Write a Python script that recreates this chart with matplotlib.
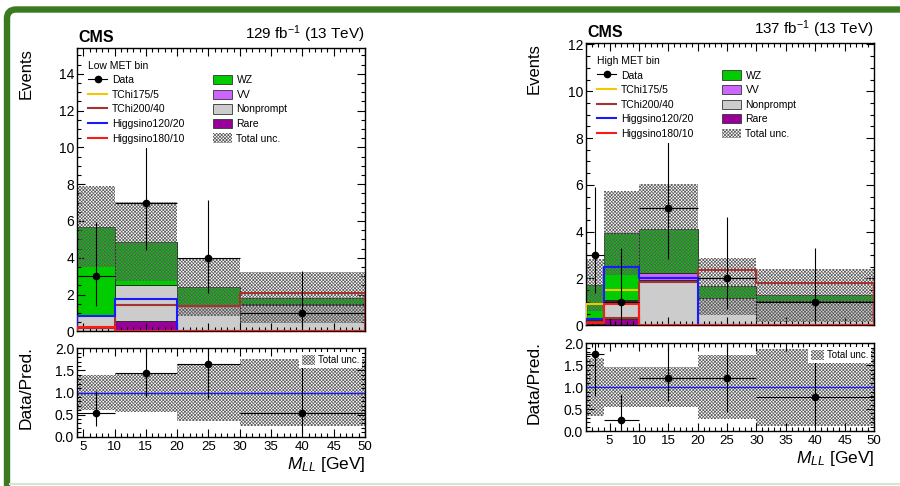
import numpy as np
import matplotlib
matplotlib.use("Agg")
import matplotlib.pyplot as plt
from matplotlib.patches import Patch, FancyBboxPatch
from matplotlib.lines import Line2D
from matplotlib.ticker import MultipleLocator, FormatStrFormatter
from matplotlib.transforms import IdentityTransform

plt.rcParams["font.family"] = ["Liberation Sans", "DejaVu Sans"]
plt.rcParams["mathtext.fontset"] = "custom"
plt.rcParams["mathtext.rm"] = "Liberation Sans"
plt.rcParams["mathtext.it"] = "Liberation Sans:italic"
plt.rcParams["mathtext.bf"] = "Liberation Sans:bold"
plt.rcParams["hatch.linewidth"] = 0.5

# ---------------- Low MET bin ----------------
edges_low = [4, 10, 20, 30, 50]
rare_low = [0.04, 0.58, 0.02, 0.02]
nonprompt_low = [0.80, 1.94, 1.36, 1.43]
vv_low = [0.04, 0.02, 0.02, 0.02]
wz_low = [4.82, 2.34, 1.03, 0.36]
unc_low = [2.20, 2.15, 1.57, 1.38]
data_low = [3, 7, 4, 1]
data_low_errdn = [1.63, 2.58, 1.91, 0.83]
data_low_errup = [2.92, 3.77, 3.16, 2.30]
tchi175_low = [0.20, 0.02, 0.02, 0.02]
tchi200_low = [0.20, 1.42, 1.38, 2.09]
hig120_low = [0.86, 1.78, 0.02, 0.02]
hig180_low = [0.24, 0.03, 0.03, 0.03]

# ---------------- High MET bin ----------------
edges_high = [1, 4, 10, 20, 30, 50]
rare_high = [0.06, 0.25, 0.03, 0.02, 0.02]
nonprompt_high = [0.14, 0.80, 1.90, 1.13, 0.98]
vv_high = [0.02, 0.02, 0.30, 0.02, 0.02]
wz_high = [1.49, 2.88, 1.90, 0.50, 0.27]
unc_high = [1.12, 1.78, 1.91, 1.22, 1.13]
data_high = [3, 1, 5, 2, 1]
data_high_errdn = [1.63, 0.83, 2.16, 1.29, 0.83]
data_high_errup = [2.92, 2.30, 3.38, 2.64, 2.30]
tchi175_high = [0.93, 1.50, 0.02, 0.02, 0.02]
tchi200_high = [0.12, 0.30, 1.86, 2.35, 1.79]
hig120_high = [0.25, 2.50, 2.03, 0.02, 0.02]
hig180_high = [0.08, 0.93, 0.03, 0.03, 0.03]

bkg_names = ["Rare", "Nonprompt", "VV", "WZ"]
bkg_colors = ["#990099", "#cccccc", "#cc66ff", "#00cc00"]
sig_names = ["TChi175/5", "TChi200/40", "Higgsino120/20", "Higgsino180/10"]
sig_colors = ["#f2c800", "#a83232", "#1a1aff", "#ff1a1a"]

HATCH = "xxxxxxxxxx"
HATCH_COLOR = "#5c5c5c"

W, H = 900, 486
fig = plt.figure(figsize=(W / 100, H / 100), dpi=100)


def px_axes(left, top, right, bottom):
    return fig.add_axes([left / W, 1 - bottom / H, (right - left) / W, (bottom - top) / H])


def style_ticks(ax, ymajor, yminor):
    ax.xaxis.set_major_locator(MultipleLocator(5))
    ax.xaxis.set_minor_locator(MultipleLocator(1))
    ax.yaxis.set_major_locator(MultipleLocator(ymajor))
    ax.yaxis.set_minor_locator(MultipleLocator(yminor))
    ax.tick_params(which="both", direction="in", top=True, right=True, width=0.8)
    ax.tick_params(which="major", length=6)
    ax.tick_params(which="minor", length=3)
    for s in ax.spines.values():
        s.set_linewidth(1.0)


def draw_panel(box_main, box_ratio, edges, stack, unc, data, errdn, errup,
               signals, ymax, bin_label, lumi, ylab_x):
    edges = np.asarray(edges, float)
    left = edges[:-1]
    width = np.diff(edges)
    centers = left + width / 2
    unc = np.asarray(unc, float)
    data = np.asarray(data, float)
    errdn = np.asarray(errdn, float)
    errup = np.asarray(errup, float)

    ax = px_axes(*box_main)
    axr = px_axes(*box_ratio)

    # stacked backgrounds
    bottom = np.zeros(len(left))
    for vals, color in zip(stack, bkg_colors):
        vals = np.asarray(vals, float)
        ax.bar(left, vals, width, bottom=bottom, align="edge", color=color,
               edgecolor="#222222", linewidth=0.6, zorder=1)
        bottom = bottom + vals
    total = bottom

    # total uncertainty band
    ax.bar(left, 2 * unc, width, bottom=total - unc, align="edge",
           facecolor="none", edgecolor=HATCH_COLOR, hatch=HATCH,
           linewidth=0, zorder=2)

    # signal overlays
    for vals, color in zip(signals, sig_colors):
        ax.stairs(vals, edges, baseline=0, color=color, lw=1.5, zorder=3)

    # observed data
    ax.errorbar(centers, data, xerr=width / 2, yerr=[errdn, errup], fmt="o",
                color="black", ms=4.5, lw=0.8, capsize=0, zorder=4)

    ax.set_xlim(edges[0], edges[-1])
    ax.set_ylim(0, ymax)
    style_ticks(ax, 2, 0.5)
    ax.tick_params(labelbottom=False, labelsize=10, pad=2)

    # legend
    handles = [
        Line2D([], [], color="black", marker="o", ms=4.5, lw=0.8),
    ]
    handles += [Line2D([], [], color=c, lw=1.5) for c in sig_colors]
    handles += [Patch(facecolor=c, edgecolor="#333333", lw=0.6)
                for c in bkg_colors[::-1]]
    handles += [Patch(facecolor="white", edgecolor=HATCH_COLOR, hatch=HATCH, lw=0)]
    labels = ["Data"] + sig_names + bkg_names[::-1] + ["Total unc."]
    leg = ax.legend(handles, labels, ncol=2, loc="upper left",
                    bbox_to_anchor=(0.024, 0.97), fontsize=7.5,
                    title=bin_label, title_fontsize=7.5, alignment="left",
                    frameon=True, fancybox=False, framealpha=1.0,
                    edgecolor="none", facecolor="white",
                    handlelength=1.85, handleheight=1.0, handletextpad=0.45,
                    columnspacing=2.7, labelspacing=0.42, borderpad=0.4,
                    borderaxespad=0)
    leg.set_zorder(10)

    # ratio panel
    rel = unc / total
    axr.bar(left, 2 * rel, width, bottom=1 - rel, align="edge",
            facecolor="none", edgecolor=HATCH_COLOR, hatch=HATCH,
            linewidth=0, zorder=1)
    axr.axhline(1.0, color="#1a1aff", lw=1.0, zorder=2)
    axr.errorbar(centers, data / total, xerr=width / 2,
                 yerr=[errdn / total, errup / total], fmt="o", color="black",
                 ms=4.5, lw=0.8, capsize=0, zorder=4)
    axr.set_xlim(edges[0], edges[-1])
    axr.set_ylim(0, 2.0)
    style_ticks(axr, 0.5, 0.1)
    axr.yaxis.set_major_formatter(FormatStrFormatter("%.1f"))
    axr.tick_params(axis="y", labelsize=10, pad=2)
    axr.tick_params(axis="x", labelsize=9.5, pad=3)
    rleg = axr.legend([Patch(facecolor="white", edgecolor=HATCH_COLOR,
                             hatch=HATCH, lw=0)], ["Total unc."],
                      loc="upper right", bbox_to_anchor=(0.99, 0.96),
                      fontsize=7, frameon=True, fancybox=False,
                      framealpha=1.0, edgecolor="none", facecolor="white",
                      handlelength=1.35, handleheight=1.2, handletextpad=0.3,
                      borderpad=0.3, borderaxespad=0)
    rleg.set_zorder(10)

    # labels
    l, t, r, b = box_main
    fig.text(l / W + 0.002, 1 - (t - 3) / H, "CMS", fontsize=11.5,
             fontweight="bold", ha="left", va="bottom")
    fig.text(r / W, 1 - (t - 3) / H, lumi, fontsize=11, ha="right", va="bottom")
    fig.text(ylab_x / W, 1 - t / H, "Events", fontsize=12, rotation=90,
             ha="center", va="top")
    lr, tr, rr, br = box_ratio
    fig.text(ylab_x / W, 1 - (tr - 2) / H, "Data/Pred.", fontsize=12.5,
             rotation=90, ha="center", va="top")
    fig.text(rr / W, 1 - (br + 37) / H, r"$M_{LL}$ [GeV]", fontsize=12.5,
             ha="right", va="bottom")


draw_panel((77, 48, 365, 331.4), (77, 348.3, 365, 436.7), edges_low,
           [rare_low, nonprompt_low, vv_low, wz_low], unc_low, data_low,
           data_low_errdn, data_low_errup,
           [tchi175_low, tchi200_low, hig120_low, hig180_low], 15.4,
           "Low MET bin", r"129 fb$^{\mathregular{-1}}$ (13 TeV)", 26)

draw_panel((586, 43.3, 874, 325.3), (586, 343.3, 874, 431), edges_high,
           [rare_high, nonprompt_high, vv_high, wz_high], unc_high, data_high,
           data_high_errdn, data_high_errup,
           [tchi175_high, tchi200_high, hig120_high, hig180_high], 12.05,
           "High MET bin", r"137 fb$^{\mathregular{-1}}$ (13 TeV)", 534)

# surrounding frame
frame = FancyBboxPatch((7, -40), 1000, H - 9.5 + 40,
                       boxstyle="round,pad=0,rounding_size=9",
                       transform=IdentityTransform(), facecolor="none",
                       edgecolor="#3c7a22", linewidth=4.6)
fig.patches.append(frame)
fig.add_artist(Line2D([10 / W, 1.0], [2 / H, 2 / H], transform=fig.transFigure,
                      color="#d6e6d0", lw=1.5))

fig.savefig("out.png", dpi=100)
